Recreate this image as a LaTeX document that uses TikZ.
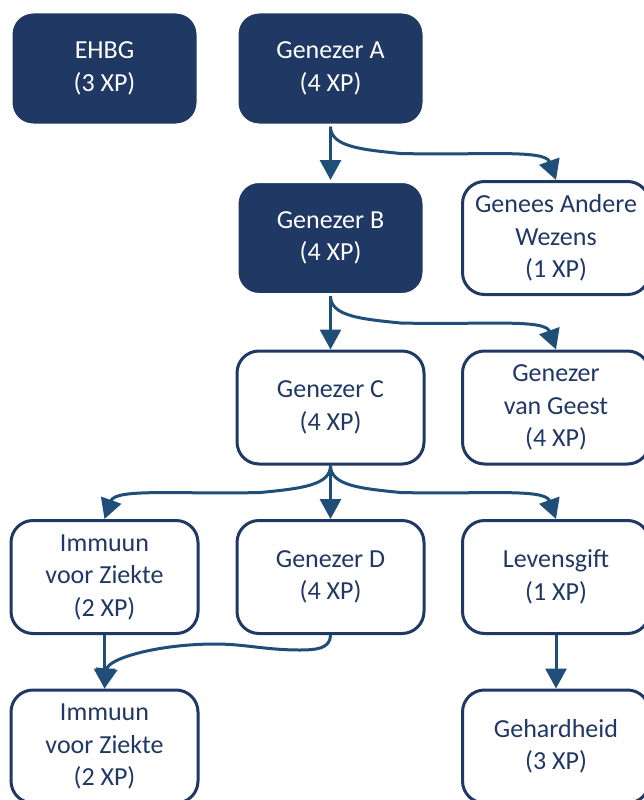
\documentclass[tikz,border=0pt]{standalone}
\usepackage{fontspec}
\setmainfont{Carlito}
\usetikzlibrary{arrows.meta}
\definecolor{navy}{RGB}{32,56,100}
\definecolor{linkblue}{RGB}{31,78,121}
\begin{document}
\begin{tikzpicture}[x=1pt,y=-1pt,
  box/.style={rounded corners=22pt, minimum width=187pt, minimum height=113pt,
    inner sep=0pt, align=center, line width=3pt,
    font=\fontsize{26}{32.5}\selectfont},
  darkbox/.style={box, fill=navy, draw=white, text=white},
  lightbox/.style={box, fill=white, draw=navy, text=navy},
  link/.style={draw=linkblue, line width=3pt,
    -{Triangle[length=20pt,width=21pt]}}]
\clip (0,0) rectangle (644,800);
\fill[white] (0,0) rectangle (644,800);

% skill boxes, three columns and five rows
\node[darkbox]  (ehbg) at (104.5,68.5) {EHBG\\(3 XP)};
\node[darkbox]  (ga)   at (330.5,68.5) {Genezer A\\(4 XP)};
\node[darkbox]  (gb)   at (330.5,238)  {Genezer B\\(4 XP)};
\node[lightbox] (gaw)  at (556,238)    {Genees Andere\\Wezens\\(1 XP)};
\node[lightbox] (gc)   at (330.5,407.5){Genezer C\\(4 XP)};
\node[lightbox] (gvg)  at (556,407.5)  {Genezer\\van Geest\\(4 XP)};
\node[lightbox] (iz1)  at (104.5,577)  {Immuun\\voor Ziekte\\(2 XP)};
\node[lightbox] (gd)   at (330.5,577)  {Genezer D\\(4 XP)};
\node[lightbox] (lg)   at (556,577)    {Levensgift\\(1 XP)};
\node[lightbox] (iz2)  at (104.5,746.5){Immuun\\voor Ziekte\\(2 XP)};
\node[lightbox] (gh)   at (556,746.5)  {Gehardheid\\(3 XP)};

% straight links
\draw[link] (ga) -- (gb);
\draw[link] (gb) -- (gc);
\draw[link] (gc) -- (gd);
\draw[link] (iz1) -- (iz2);
\draw[link] (lg) -- (gh);

% curved branch: down, gently across, then into the target's top
\tikzset{
  branch/.style args={#1 to #2 dir #3}{insert path={
    (#1.south) .. controls +(0,20) and +(-#3*40,-4) .. +(#3*70,27)
    .. controls +(#3*80,2) and +(-#3*11,-31) .. (#2.north)}}}
\draw[link, branch=ga to gaw dir 1];
\draw[link, branch=gb to gvg dir 1];
\draw[link, branch=gc to lg dir 1];
\draw[link, branch=gc to iz1 dir -1];

% wavy link from Genezer D into the lower left box
\draw[link] (gd.south) .. controls +(0,14) and +(15,0) .. (300,650)
  .. controls (265,650) and (245,644) .. (215,644)
  .. controls (160,644) and (108,658) .. (iz2.north);
\end{tikzpicture}
\end{document}
